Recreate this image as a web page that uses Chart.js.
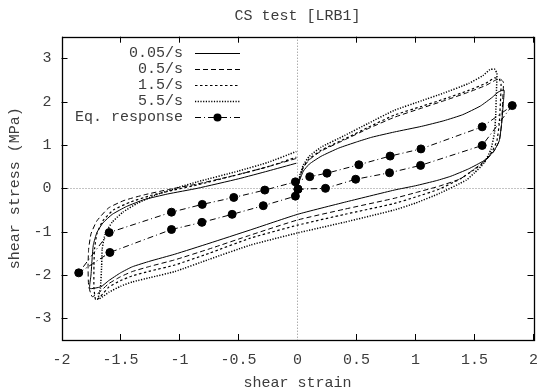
<!DOCTYPE html>
<html>
<head>
<meta charset="utf-8">
<script src="https://cdn.jsdelivr.net/npm/chart.js@4"></script>
<style>html,body{margin:0;padding:0;background:#fff;}canvas{display:block;}</style>
</head>
<body>
<canvas id="c" width="549" height="392"></canvas>
<script>
// ---- data (strain, stress in MPa) ----
const seriesLabels = ["0.05/s", "0.5/s", "1.5/s", "5.5/s", "Eq. response"];
const xTicks = [-2, -1.5, -1, -0.5, 0, 0.5, 1, 1.5, 2];
const yTicks = [-3, -2, -1, 0, 1, 2, 3];

const rate005 = [[0,0],[0.02,0.2],[0.05,0.4],[0.1,0.56],[0.2,0.74],[0.35,0.93],[0.5,1.07],[0.63,1.18],[0.82,1.3],[1.05,1.43],[1.24,1.56],[1.4,1.7],[1.55,1.9],[1.65,2.1],[1.7,2.22],[1.75,2.27],
[1.745,2.0],[1.73,1.5],[1.71,1.1],[1.66,0.84],[1.58,0.64],[1.45,0.45],[1.3,0.28],[1.18,0.18],[1.0,0.06],[0.82,-0.04],[0.4,-0.32],[0,-0.6],
[-0.4,-0.96],[-0.75,-1.27],[-1.04,-1.52],[-1.25,-1.68],[-1.4,-1.81],[-1.5,-1.95],[-1.6,-2.13],[-1.665,-2.27],[-1.76,-2.31],
[-1.75,-2.0],[-1.74,-1.6],[-1.73,-1.3],[-1.7,-1.02],[-1.65,-0.8],[-1.57,-0.6],[-1.45,-0.42],[-1.3,-0.26],[-1.1,-0.13],[-0.85,0.0],[-0.5,0.22],[-0.25,0.4],[-0.01,0.58]];

const rate05 = [[0,0],[0.02,0.25],[0.05,0.48],[0.1,0.66],[0.2,0.86],[0.4,1.12],[0.6,1.38],[0.82,1.64],[1.05,1.85],[1.24,2.02],[1.45,2.22],[1.6,2.38],[1.68,2.5],[1.72,2.52],[1.745,2.45],
[1.74,2.1],[1.73,1.5],[1.71,1.1],[1.67,0.88],[1.6,0.66],[1.5,0.45],[1.38,0.22],[1.2,0.05],[1.0,-0.1],[0.82,-0.23],[0.4,-0.48],[0,-0.73],
[-0.4,-1.08],[-0.75,-1.4],[-1.04,-1.65],[-1.25,-1.8],[-1.4,-1.92],[-1.5,-2.04],[-1.6,-2.2],[-1.68,-2.4],[-1.74,-2.5],
[-1.77,-2.25],[-1.775,-1.8],[-1.77,-1.4],[-1.75,-1.05],[-1.7,-0.75],[-1.6,-0.45],[-1.47,-0.28],[-1.3,-0.15],[-1.1,-0.03],[-0.85,0.1],[-0.5,0.32],[-0.25,0.5],[-0.01,0.69]];

const rate15 = [[0,0],[0.02,0.27],[0.05,0.5],[0.1,0.68],[0.2,0.88],[0.4,1.14],[0.6,1.41],[0.82,1.69],[1.05,1.89],[1.24,2.06],[1.45,2.26],[1.6,2.43],[1.67,2.55],[1.71,2.52],[1.725,2.4],
[1.72,2.0],[1.71,1.5],[1.69,1.1],[1.65,0.85],[1.58,0.6],[1.48,0.4],[1.38,0.22],[1.2,-0.02],[1.0,-0.2],[0.82,-0.35],[0.4,-0.6],[0,-0.85],
[-0.4,-1.15],[-0.75,-1.5],[-1.04,-1.77],[-1.25,-1.91],[-1.4,-2.02],[-1.5,-2.13],[-1.6,-2.28],[-1.67,-2.5],[-1.71,-2.58],
[-1.725,-2.3],[-1.725,-1.8],[-1.72,-1.4],[-1.7,-1.05],[-1.65,-0.75],[-1.56,-0.5],[-1.42,-0.32],[-1.25,-0.17],[-1.05,-0.04],[-0.85,0.08],[-0.5,0.32],[-0.25,0.5],[-0.01,0.72]];

const rate55 = [[0,0],[0.02,0.3],[0.05,0.54],[0.1,0.74],[0.2,0.95],[0.4,1.22],[0.6,1.5],[0.82,1.8],[1.05,2.02],[1.24,2.2],[1.45,2.42],[1.57,2.6],[1.63,2.74],[1.67,2.75],[1.69,2.65],
[1.685,2.2],[1.68,1.7],[1.67,1.3],[1.64,0.9],[1.58,0.58],[1.5,0.36],[1.43,0.19],[1.2,-0.12],[1.0,-0.34],[0.82,-0.5],[0.4,-0.78],[0,-1.03],
[-0.4,-1.31],[-0.75,-1.64],[-1.04,-1.92],[-1.25,-2.06],[-1.4,-2.16],[-1.5,-2.26],[-1.6,-2.4],[-1.65,-2.5],[-1.69,-2.56],
[-1.67,-2.3],[-1.66,-1.8],[-1.655,-1.4],[-1.63,-1.05],[-1.57,-0.78],[-1.48,-0.55],[-1.36,-0.35],[-1.2,-0.15],[-1.0,0.03],[-0.85,0.15],[-0.5,0.4],[-0.25,0.6],[-0.01,0.85]];

const eqResponse = [[0.004,-0.02],[0.237,0.0],[0.493,0.21],[0.78,0.36],[1.043,0.53],[1.565,0.99],[1.82,1.91],[1.565,1.42],[1.046,0.91],[0.785,0.745],[0.52,0.545],[0.25,0.35],[0.104,0.27],[-0.018,0.15],[-0.277,-0.04],[-0.54,-0.21],[-0.807,-0.37],[-1.068,-0.55],[-1.596,-1.02],[-1.854,-1.95],[-1.59,-1.48],[-1.068,-0.95],[-0.81,-0.785],[-0.554,-0.60],[-0.29,-0.40],[-0.018,-0.18],[0.004,-0.02]];

const FONT = '"Liberation Mono", "DejaVu Sans Mono", monospace';
const TXT = '#3c3c3c';
const toPts = a => a.map(p => ({x: p[0], y: p[1]}));

const curveStyles = [
  {dash: [], width: 1},
  {dash: [5, 3], width: 1},
  {dash: [2.5, 2.5], width: 1.2},
  {dash: [1.2, 1.5], width: 1.5}
];
const curves = [rate005, rate05, rate15, rate55];

const datasets = curves.map((c, i) => ({
  label: seriesLabels[i],
  data: toPts(c),
  showLine: true,
  borderColor: '#000',
  borderWidth: curveStyles[i].width,
  borderDash: curveStyles[i].dash,
  pointRadius: 0,
  tension: 0.15,
  fill: false
}));
datasets.push({
  label: seriesLabels[4],
  data: toPts(eqResponse),
  showLine: true,
  borderColor: '#000',
  borderWidth: 1,
  borderDash: [6, 3, 1, 3],
  pointRadius: 4,
  pointBackgroundColor: '#000',
  pointBorderColor: '#000',
  tension: 0,
  fill: false
});

const framePlugin = {
  id: 'frame',
  beforeDatasetsDraw(chart) {
    const {ctx, chartArea: a, scales: {x, y}} = chart;
    ctx.save();
    ctx.strokeStyle = '#888';
    ctx.lineWidth = 1;
    ctx.setLineDash([1, 2]);
    const x0 = Math.round(x.getPixelForValue(0)) + 0.5;
    const y0 = Math.round(y.getPixelForValue(0)) + 0.5;
    ctx.beginPath();
    ctx.moveTo(x0, a.top); ctx.lineTo(x0, a.bottom);
    ctx.moveTo(a.left, y0); ctx.lineTo(a.right, y0);
    ctx.stroke();
    ctx.restore();
  },
  afterDraw(chart) {
    const {ctx, chartArea: a, scales: {x, y}} = chart;
    ctx.save();
    ctx.strokeStyle = '#000';
    ctx.lineWidth = 1;
    ctx.setLineDash([]);
    const L = 6;
    ctx.beginPath();
    xTicks.forEach(v => {
      if (v === 0) return;
      const px = Math.round(x.getPixelForValue(v)) + 0.5;
      ctx.moveTo(px, a.bottom); ctx.lineTo(px, a.bottom - L);
      ctx.moveTo(px, a.top); ctx.lineTo(px, a.top + L);
    });
    yTicks.forEach(v => {
      const py = Math.round(y.getPixelForValue(v)) + 0.5;
      ctx.moveTo(a.left, py); ctx.lineTo(a.left + L, py);
      ctx.moveTo(a.right, py); ctx.lineTo(a.right - L, py);
    });
    ctx.stroke();
    ctx.lineWidth = 1.3;
    ctx.strokeRect(Math.round(a.left) + 0.5, Math.round(a.top) + 0.5, Math.round(a.right - a.left), Math.round(a.bottom - a.top));

    // gnuplot-style key
    const ds = chart.data.datasets;
    const textRight = a.left + 121.5;
    const s0 = a.left + 133.5, s1 = a.left + 178.5;
    ctx.font = '15px ' + FONT;
    ctx.textAlign = 'right';
    ctx.textBaseline = 'middle';
    ds.forEach((d, i) => {
      const yy = Math.round(a.top + 16.6 + i * 15.85) + 0.5;
      ctx.fillStyle = TXT;
      ctx.fillText(d.label, textRight, yy);
      ctx.strokeStyle = '#000';
      ctx.lineWidth = d.borderWidth;
      ctx.setLineDash(d.borderDash || []);
      ctx.beginPath();
      ctx.moveTo(s0, yy); ctx.lineTo(s1, yy);
      ctx.stroke();
      if (d.pointRadius > 0) {
        ctx.setLineDash([]);
        ctx.fillStyle = '#000';
        ctx.beginPath();
        ctx.arc((s0 + s1) / 2, yy, d.pointRadius, 0, Math.PI * 2);
        ctx.fill();
      }
    });
    ctx.restore();
  }
};

new Chart(document.getElementById('c'), {
  type: 'scatter',
  data: {datasets},
  options: {
    responsive: false,
    animation: false,
    devicePixelRatio: 1,
    layout: {padding: {left: 0, right: 7.5, top: 0, bottom: 0}},
    plugins: {
      legend: {display: false},
      tooltip: {enabled: false},
      title: {
        display: true,
        fullSize: false,
        text: 'CS test [LRB1]',
        color: TXT,
        font: {family: FONT, size: 15, weight: 'normal', lineHeight: 1.2},
        padding: {top: 7, bottom: 11.7}
      }
    },
    scales: {
      x: {
        type: 'linear',
        min: -2, max: 2,
        afterBuildTicks: s => { s.ticks = xTicks.map(v => ({value: v})); },
        afterFit: s => { s.height = 52; },
        grid: {display: false, drawTicks: false},
        border: {display: false},
        ticks: {
          color: TXT, padding: 11,
          font: {family: FONT, size: 15},
          callback: v => String(v),
          maxRotation: 0, autoSkip: false
        },
        title: {
          display: true, text: 'shear strain', color: TXT,
          font: {family: FONT, size: 15, lineHeight: 1.2},
          padding: {top: 0, bottom: 0}
        }
      },
      y: {
        type: 'linear',
        min: -3.5, max: 3.5,
        afterBuildTicks: s => { s.ticks = yTicks.map(v => ({value: v})); },
        afterFit: s => { s.width = 61.5; },
        grid: {display: false, drawTicks: false},
        border: {display: false},
        ticks: {
          color: TXT, padding: 10,
          font: {family: FONT, size: 15},
          callback: v => String(v)
        },
        title: {
          display: true, text: 'shear stress (MPa)', color: TXT,
          font: {family: FONT, size: 15, lineHeight: 1.2},
          padding: {top: 6, bottom: 0}
        }
      }
    }
  },
  plugins: [framePlugin]
});
</script>
</body>
</html>
